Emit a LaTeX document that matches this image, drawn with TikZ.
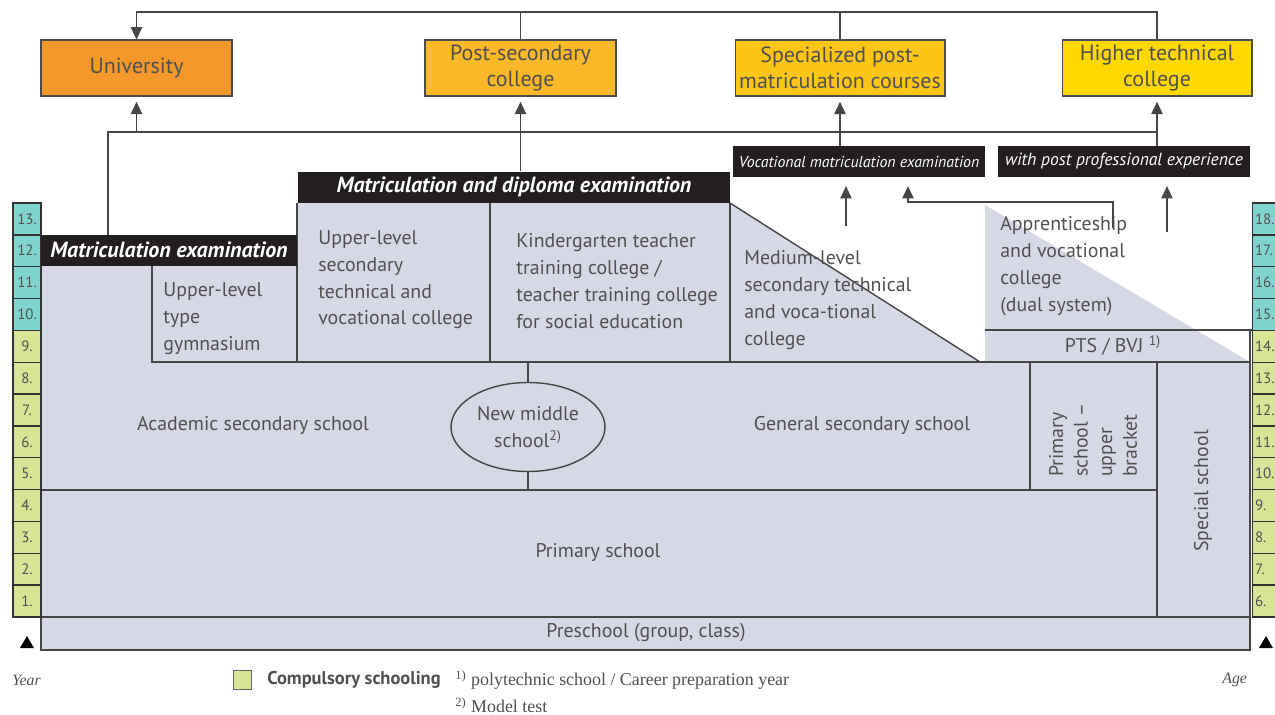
\documentclass[tikz,border=0pt]{standalone}
\usepackage{fontspec}
\setmainfont{PT Sans}
\newfontfamily\notefont{Liberation Serif}
\usepackage{xcolor}
\usetikzlibrary{positioning,arrows.meta,shapes.geometric}

\definecolor{chartfill}{RGB}{215,216,230}
\definecolor{upcol}{RGB}{128,212,206}
\definecolor{compcol}{RGB}{214,228,150}
\definecolor{unicol}{RGB}{244,152,44}
\definecolor{postcol}{RGB}{251,184,40}
\definecolor{speccol}{RGB}{253,198,22}
\definecolor{highcol}{RGB}{255,216,0}
\definecolor{barblack}{RGB}{35,31,32}
\definecolor{textgray}{RGB}{80,80,80}
\definecolor{linegray}{RGB}{70,70,70}

\begin{document}
\begin{tikzpicture}[x=0.02cm,y=-0.02cm,
  topbox/.style={draw=black!70, line width=0.6pt, minimum height=1.12cm, align=center, text=textgray, font=\fontsize{12.5}{14.7}\selectfont, inner sep=1pt},
  examb/.style={fill=barblack, text=white, font=\bfseries\itshape\fontsize{12.5}{14}\selectfont, minimum height=0.62cm, inner sep=0pt},
  smallbar/.style={examb, font=\itshape\fontsize{9}{10}\selectfont},
  yearbox/.style={draw=black!80, line width=0.8pt, minimum width=0.56cm, minimum height=0.637cm, inner sep=0pt, text=textgray, font=\fontsize{8.5}{9}\selectfont},
  chartline/.style={draw=linegray, line width=0.8pt},
  arr/.style={-{Triangle[length=7pt,width=6.5pt]}, draw=linegray, line width=0.6pt},
  txt/.style={text=textgray, font=\fontsize{11.3}{15.3}\selectfont, inner sep=0pt, align=left},
  legtxt/.style={text=textgray, font=\notefont\fontsize{10.2}{11}\selectfont, inner sep=0pt}
]
\useasboundingbox (0,0) rectangle (1275,714);
\clip (0,0) rectangle (1275,714);

% school area
\fill[chartfill] (41,265) -- (297,265) -- (297,203) -- (730,203) -- (980,362) -- (985,362) -- (985,205) -- (1250,362) -- (1250,650) -- (41,650) -- cycle;
\draw[chartline] (41,265) -- (41,650) -- (1250,650) -- (1250,330);
\draw[chartline] (41,617) -- (1250,617);
\draw[chartline] (41,490) -- (1157,490);
\draw[chartline] (152,265) -- (152,362) -- (1250,362);
\foreach \x in {297,490,730} \draw[chartline] (\x,203) -- (\x,362);
\draw[chartline] (730,203) -- (980,362);
\draw[chartline] (528,362) -- (528,490);
\draw[chartline] (1030,362) -- (1030,490);
\draw[chartline] (1157,362) -- (1157,617);
\draw[chartline] (985,330) -- (1275,330);

% years and ages
\foreach \i in {0,...,12} {
  \pgfmathtruncatemacro\yr{13-\i}
  \pgfmathtruncatemacro\age{18-\i}
  \ifnum\i<4 \def\boxcol{upcol}\else\def\boxcol{compcol}\fi
  \node[yearbox, fill=\boxcol] (yr\yr) at (27,{218.9+31.85*\i}) {\yr.};
  \node[yearbox, fill=\boxcol, minimum width=0.7cm, text width=0.6cm, align=left, inner xsep=1pt] (age\age) at (1270,{218.9+31.85*\i}) {\age.};
}

% exam bars
\node[examb, minimum width=5.12cm] (matexam) at (169,250) {Matriculation examination};
\node[examb, minimum width=8.64cm] (matdip) at (514,187) {Matriculation and diploma examination};
\node[smallbar, minimum width=5.04cm] (vocmat) at (859,161.5) {Vocational matriculation examination};
\node[smallbar, minimum width=5.04cm, font=\itshape\fontsize{10}{11}\selectfont] (postexp) at (1124,161.5) {with post professional experience};

% top boxes
\node[topbox, fill=unicol, minimum width=3.82cm] (uni) at (136.5,68) {University};
\node[topbox, fill=postcol, minimum width=3.82cm] (postsec) at (520.5,68) {Post-secondary\\college};
\node[topbox, fill=speccol, minimum width=4.2cm] (spec) at (840,68) {Specialized post-\\matriculation courses};
\node[topbox, fill=highcol, minimum width=3.8cm] (higher) at (1157,68) {Higher technical\\college};

% connectors
\coordinate (topline) at (0,12);
\coordinate (midline) at (0,132);
\coordinate (leftup) at (108,235);
\draw[arr] (higher.north) |- (topline -| uni) -- (uni.north);
\draw[linegray, line width=0.6pt] (postsec.north) -- (postsec.north |- topline);
\draw[linegray, line width=0.6pt] (spec.north) -- (spec.north |- topline);
\draw[linegray, line width=0.6pt] (leftup) |- (higher.south |- midline);
\draw[arr, shorten >=3pt] (uni.south |- midline) -- (uni.south);
\draw[arr, shorten >=3pt] (matdip.north -| postsec) -- (postsec.south);
\draw[arr, shorten >=3pt] (vocmat.north -| spec) -- (spec.south);
\draw[arr, shorten >=3pt] (postexp.north -| higher) -- (higher.south);
\coordinate (mlvl) at (846,226);
\coordinate (appr) at (1113,228);
\coordinate (apprturn) at (908,202);
\coordinate (exper) at (1167,232);
\draw[arr, shorten >=5pt] (mlvl) -- (mlvl |- vocmat.south);
\draw[arr, shorten >=5pt] (appr) |- (apprturn) -- (apprturn |- vocmat.south);
\draw[arr, shorten >=5pt] (exper) -- (exper |- postexp.south);

% school texts
\node[txt, anchor=north west] (gym) at (163,282) {Upper-level\\type\\gymnasium};
\node[txt, anchor=north west] (uptech) at (318,230) {Upper-level\\secondary\\technical and\\vocational college};
\node[txt, anchor=north west] (kinder) at (516,233) {Kindergarten teacher\\training college /\\teacher training college\\for social education};
\node[txt, anchor=north west] (medlvl) at (744,250) {Medium-level\\secondary technical\\and voca-tional\\college};
\node[txt, anchor=north west] (apprent) at (1000,216) {Apprenticeship\\and vocational\\college\\(dual system)};
\node[txt] (pts) at (1113,345) {PTS / BVJ \textsuperscript{1)}};
\node[txt] (acad) at (253,425) {Academic secondary school};
\node[draw=linegray, line width=0.8pt, ellipse, fill=chartfill, minimum width=3.08cm, minimum height=1.78cm, txt, align=center] (nms) at (528,427) {New middle\\school\textsuperscript{2)}};
\node[txt] (gensec) at (862,425) {General secondary school};
\node[txt, rotate=90, font=\fontsize{11.3}{14}\selectfont] (pupper) at (1093,440) {Primary\\school --\\upper\\bracket};
\node[txt, rotate=90] (special) at (1203,491) {Special school};
\node[txt] (primary) at (598,552) {Primary school};
\node[txt] (presch) at (646,633) {Preschool (group, class)};

% legend
\fill[black] (20,648) -- (27,636) -- (34,648) -- cycle;
\fill[black] (1259,648) -- (1266,636) -- (1273,648) -- cycle;
\node[legtxt, anchor=west, font=\notefont\itshape\fontsize{9}{10}\selectfont] (year) at (12,680) {Year};
\node[legtxt, anchor=west, font=\notefont\itshape\fontsize{9}{10}\selectfont] (agelab) at (1222,680) {Age};
\node[draw=black!60, fill=compcol, minimum width=0.36cm, minimum height=0.38cm, inner sep=0pt] (legbox) at (242,679.5) {};
\node[legtxt, anchor=west, font=\bfseries\fontsize{10.5}{11}\selectfont] (compul) at (267,680) {Compulsory schooling};
\node[legtxt, anchor=west] (note1) at (455,680) {\textsuperscript{1)} polytechnic school / Career preparation year};
\node[legtxt, anchor=west] (note2) at (455,705) {\textsuperscript{2)} Model test};
\end{tikzpicture}
\end{document}
